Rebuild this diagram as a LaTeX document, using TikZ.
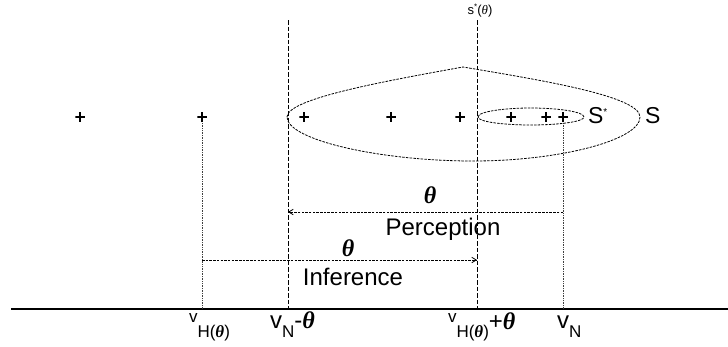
\documentclass[tikz,border=0pt]{standalone}
\usepackage{fontspec}
\setmainfont{Liberation Sans}
\newfontfamily\thfont{Liberation Serif}
\newcommand\mytheta{{\thfont\bfseries\itshape θ}}
\newcommand\mythetalight{{\thfont\itshape θ}}
\newcommand\myfs[1]{\fontsize{#1}{#1}\selectfont}
\usetikzlibrary{arrows.meta}
\begin{document}
\begin{tikzpicture}[x=1pt,y=-1pt,
  lbl/.style={inner sep=0pt, outer sep=0pt},
  plusmk/.style={minimum size=9.5pt, inner sep=0pt, outer sep=0pt,
    path picture={\draw[line width=1.5pt]
      (path picture bounding box.north)--(path picture bounding box.south)
      (path picture bounding box.west)--(path picture bounding box.east);}},
  guide/.style={dash pattern=on 4.5pt off 2pt, line width=0.8pt},
  dotguide/.style={dash pattern=on 0.8pt off 0.9pt, line width=0.7pt, black!75},
  setline/.style={dash pattern=on 2.5pt off 1.2pt, line width=0.8pt},
  measure/.style={dash pattern=on 2.5pt off 1.2pt, line width=0.8pt},
  tipend/.style={-{Straight Barb[length=4.5pt,width=5.5pt]}}
]
\useasboundingbox (0,0) rectangle (728,346);

% axis
\coordinate (axL) at (11,309);
\coordinate (axR) at (728,309);
\draw[line width=1.1pt] (axL) -- (axR);

% vertical dashed guides
\coordinate (gAtop) at (288,20);
\coordinate (gAbot) at (288,309);
\coordinate (gBtop) at (477,20);
\coordinate (gBbot) at (477,309);
\draw[guide] (gAtop) -- (gAbot);
\draw[guide] (gBtop) -- (gBbot);

% plus marks
\node[plusmk] (p1) at (80,117) {};
\node[plusmk] (p2) at (202,117) {};
\node[plusmk] (p3) at (304,117) {};
\node[plusmk] (p4) at (391,117) {};
\node[plusmk] (p5) at (460,117) {};
\node[plusmk] (p6) at (511,117) {};
\node[plusmk] (p7) at (546,117) {};
\node[plusmk] (p8) at (563,117) {};

% dotted verticals
\coordinate (dAtop) at (202,123);
\coordinate (dAbot) at (202,309);
\coordinate (dBtop) at (563,123);
\coordinate (dBbot) at (563,309);
\draw[dotguide] (dAtop) -- (dAbot);
\draw[dotguide] (dBtop) -- (dBbot);

% set S
\draw[setline] (287,117) .. controls (287,99) and (380,82) .. (463,67)
  .. controls (540,80) and (640,96) .. (640,117)
  .. controls (640,140) and (560,161) .. (473,161)
  .. controls (380,161) and (287,140) .. (287,117) -- cycle;
% set S*
\draw[setline] (478,117) .. controls (478,111) and (508,108) .. (530,108)
  .. controls (560,108) and (584,112) .. (584,117)
  .. controls (584,122) and (556,125) .. (531,125)
  .. controls (505,125) and (478,122) .. (478,117) -- cycle;

\node[lbl, anchor=base west] (Sstar) at (588,123) {\myfs{23}S\raisebox{8pt}{\myfs{10}*}};
\node[lbl, anchor=base west] (Sbig) at (645,123) {\myfs{23}S};

% top label
\node[lbl, anchor=base] (stheta) at (480,14) {\myfs{13}s\raisebox{5pt}{\myfs{8}*}(\mythetalight)};

% perception arrow
\coordinate (pR) at (563,212);
\coordinate (pL) at (288,212);
\draw[measure, tipend] (pR) -- (pL);
\node[lbl, anchor=base] (thP) at (430,203) {\myfs{24}\mytheta};
\node[lbl, anchor=base] (perc) at (443,235) {\myfs{24}Perception};

% inference arrow
\coordinate (iL) at (202,260);
\coordinate (iR) at (477,260);
\draw[measure, tipend] (iL) -- (iR);
\node[lbl, anchor=base] (thI) at (348,256) {\myfs{24}\mytheta};
\node[lbl, anchor=base] (infer) at (353,285) {\myfs{24}Inference};

% axis labels
\node[lbl, anchor=base west] (l1) at (189,322)
  {\myfs{17}v\raisebox{-15pt}{\myfs{17}H(\mytheta)}};
\node[lbl, anchor=base west] (l2) at (270,328)
  {\myfs{24}v\raisebox{-9pt}{\myfs{17}N}\myfs{24}-\mytheta};
\node[lbl, anchor=base west] (l3) at (448,322)
  {\myfs{17}v\raisebox{-15pt}{\myfs{17}H(\mytheta)}\raisebox{-7pt}{\myfs{24}+\mytheta}};
\node[lbl, anchor=base west] (l4) at (557,328)
  {\myfs{24}v\raisebox{-9pt}{\myfs{17}N}};
\end{tikzpicture}
\end{document}
